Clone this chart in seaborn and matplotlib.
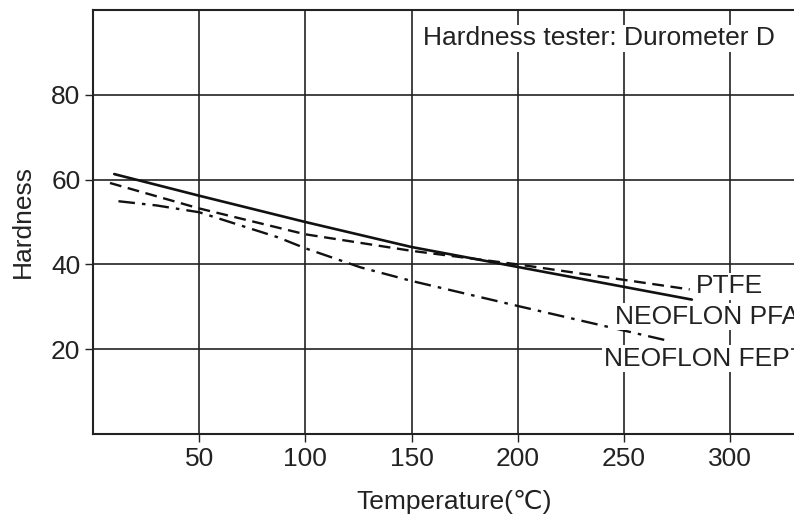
import matplotlib
matplotlib.use("Agg")
import matplotlib.pyplot as plt
import seaborn as sns
import pandas as pd
from matplotlib import font_manager

# ---- data ----
pfa_temp = [10, 50, 100, 150, 200, 282]
pfa_hard = [61.3, 56.2, 50.0, 44.1, 39.4, 31.7]

ptfe_temp = [8, 50, 100, 150, 200, 281]
ptfe_hard = [59.2, 53.2, 47.1, 43.2, 40.0, 34.1]

fep_temp = [12, 30, 50, 87, 100, 126, 150, 200, 269]
fep_hard = [54.9, 53.9, 52.3, 46.4, 43.8, 39.3, 36.1, 30.2, 22.2]

x_ticks = [50, 100, 150, 200, 250, 300]
y_ticks = [20, 40, 60, 80]

sns.set_theme(style="white")
names = {f.name for f in font_manager.fontManager.ttflist}
fam = ["Liberation Sans Narrow"] if "Liberation Sans Narrow" in names else []
plt.rcParams["font.family"] = fam + ["Liberation Sans", "DejaVu Sans"]

fig = plt.figure(figsize=(7.94, 5.23), dpi=100)
ax = fig.add_axes([93 / 794, 89 / 523, 722 / 794, 424 / 523])

df_pfa = pd.DataFrame({"T": pfa_temp, "H": pfa_hard})
df_ptfe = pd.DataFrame({"T": ptfe_temp, "H": ptfe_hard})
df_fep = pd.DataFrame({"T": fep_temp, "H": fep_hard})

sns.lineplot(data=df_pfa, x="T", y="H", ax=ax, color="#111111", lw=1.9, zorder=3)
sns.lineplot(data=df_ptfe, x="T", y="H", ax=ax, color="#111111", lw=1.7,
             linestyle=(0, (5, 2.8)), zorder=3)
sns.lineplot(data=df_fep, x="T", y="H", ax=ax, color="#111111", lw=1.7,
             linestyle=(0, (7, 3, 1.5, 3)), zorder=3)

ax.set_xlim(0, 340)
ax.set_ylim(0, 100)
ax.set_xticks(x_ticks)
ax.set_yticks(y_ticks)
ax.tick_params(axis="both", direction="out", length=6, width=1.0, color="#222222",
               labelsize=19, labelcolor="#222222", bottom=True, left=True, pad=3)
ax.grid(True, color="#222222", lw=1.2)
ax.set_axisbelow(True)
for s in ax.spines.values():
    s.set_color("#222222")
    s.set_linewidth(1.5)

ax.set_xlabel("Temperature(\u2103)", fontsize=19, color="#222222", labelpad=14)
ax.set_ylabel("Hardness", fontsize=19, color="#222222", labelpad=12)

bb = dict(facecolor="white", edgecolor="none", pad=1.0)
ax.text(155.5, 93.3, "Hardness tester: Durometer D", fontsize=19, color="#222222",
        va="center", ha="left", bbox=bb, zorder=4)
ax.text(284, 34.8, "PTFE", fontsize=19, color="#222222", va="center", ha="left",
        bbox=bb, zorder=4)
ax.text(246, 27.7, "NEOFLON PFA", fontsize=19, color="#222222", va="center",
        ha="left", bbox=bb, zorder=4)
ax.text(240.5, 17.8, "NEOFLON FEP", fontsize=19, color="#222222", va="center",
        ha="left", bbox=bb, zorder=4)

fig.savefig("out.png", dpi=100)
